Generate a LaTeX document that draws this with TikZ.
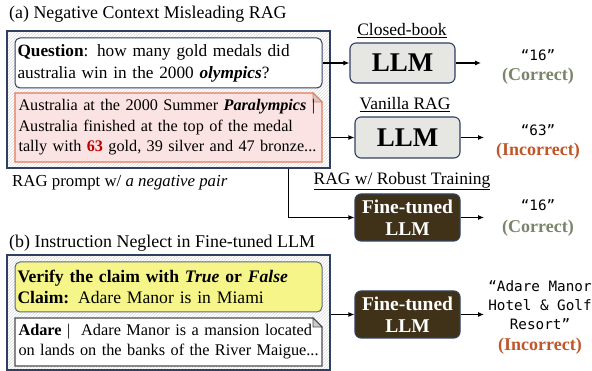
\documentclass[tikz,border=0pt]{standalone}
\usepackage{fontspec}
\setmainfont{Liberation Serif}
\setmonofont{DejaVu Sans Mono}
\usepackage{tikz}
\usetikzlibrary{positioning,calc,arrows.meta,patterns}
\definecolor{NAVY}{HTML}{2F4063}
\definecolor{DOCRED}{HTML}{E07B5A}
\definecolor{DOCPINK}{HTML}{FBE3E3}
\definecolor{LLMGRAY}{HTML}{E6E6E3}
\definecolor{BROWN}{HTML}{3F3219}
\definecolor{GOOD}{HTML}{7A8468}
\definecolor{BAD}{HTML}{C0562A}
\definecolor{CLAIMY}{HTML}{F6F58A}
\definecolor{HOT}{HTML}{C00000}
\tikzset{
    txt/.style={font=\fontsize{17.5}{21.5}\selectfont, inner sep=0pt},
    title/.style={font=\fontsize{17.9}{21.5}\selectfont, inner sep=0pt, anchor=west},
    panel/.style={draw=NAVY, line width=1.6pt, pattern=north east lines,
        pattern color=black!14, minimum width=323pt, inner sep=0pt},
    qbox/.style={rounded corners=5pt, line width=1pt, text width=302pt,
        inner xsep=2.5pt, inner ysep=0pt, align=left, minimum height=50pt},
    doctxt/.style={font=\fontsize{16.2}{20.5}\selectfont, inner sep=0pt, text width=302pt, align=left},
    llmbox/.style={draw=NAVY, line width=1.1pt, rounded corners=6pt, fill=LLMGRAY,
        minimum width=105pt, font=\fontsize{27}{30}\selectfont\bfseries},
    ftbox/.style={llmbox, fill=BROWN, text=white, align=center, minimum height=47pt,
        font=\fontsize{19.5}{22}\selectfont\bfseries, inner sep=0pt},
    ans/.style={font=\fontsize{14.3}{19}\selectfont\ttfamily, align=center, inner sep=0pt},
    verdict/.style={txt, font=\fontsize{18}{21}\selectfont\bfseries},
    arr/.style={-{Latex[length=6pt,width=5pt]}, line width=1.1pt},
}
\def\Doc[draw #1 fill #2]#3#4{
    \filldraw[draw=#1, fill=#2, line width=1.1pt]
        (#3) -- ($(#4 |- #3)+(-9,0)$) -- ($(#4 |- #3)+(0,9)$) -- (#4) -- (#3 |- #4) -- cycle;
    \filldraw[draw=#1, fill=black!20, line width=0.8pt] % folded corner
        ($(#4 |- #3)+(-9,0)$) -- ($(#4 |- #3)+(-9,9)$) -- ($(#4 |- #3)+(0,9)$) -- cycle;
}

\begin{document}
\begin{tikzpicture}[x=1pt,y=-1pt]
    \useasboundingbox (0,0) rectangle (592,371);

    % (a) negative context
    \node[title] (tA) at (9,14) {(a) Negative Context Misleading RAG};
    \node[panel, minimum height=137pt] (pA) at (168.5,99.5) {};
    \node[qbox, draw=NAVY, fill=white, font=\fontsize{17.25}{22}\selectfont] (q) at (168.5,63)
        {\textbf{Question}: how many gold medals did\\australia win in the 2000 \textbf{\textit{olympics}}?};
    \coordinate (cNW) at (15,93);
    \coordinate (cSE) at (322,162);
    \Doc[draw DOCRED fill DOCPINK]{cNW}{cSE}
    \node[doctxt] (ctx) at ($(cNW)!0.5!(cSE)+(1,0)$)
        {Australia at the 2000 Summer \textbf{\textit{Paralympics}} \textbar\\
         Australia finished at the top of the medal\\
         tally with \textcolor{HOT}{\textbf{63}} gold, 39 silver and 47 bronze...};
    \node[title, font=\fontsize{16.8}{19}\selectfont] (pl) at (12,183) {RAG prompt w/ \textit{a negative pair}};

    \node[txt] (cb) at (402,31) {\underline{Closed-book}};
    \node[llmbox, minimum height=40pt] (llm1) at (402.5,63) {LLM};
    \node[txt] (vr) at (405,105) {\underline{Vanilla RAG}};
    \node[llmbox, minimum height=41pt] (llm2) at (407.5,137.5) {LLM};
    \node[txt] (rt) at (402,181) {\underline{RAG w/ Robust Training}};
    \node[ftbox] (ft1) at (407.5,217.5) {Fine-tuned\\LLM};

    \node[ans] (o1) at (538,55) {“16”};
    \node[verdict, text=GOOD] (v1) at (538,76) {(Correct)};
    \node[ans] (o2) at (538,130) {“63”};
    \node[verdict, text=BAD] (v2) at (538,151) {(Incorrect)};
    \node[ans] (o3) at (538,205) {“16”};
    \node[verdict, text=GOOD] (v3) at (538,228) {(Correct)};

    \coordinate (e1) at (481,63);
    \coordinate (e2) at (484,137.5);
    \coordinate (e3) at (484,217.5);
    \coordinate (tap) at ($(pA.south east)+(-42,0)$);
    \draw[arr] (q.east) -- (llm1.west);
    \draw[arr] (llm1.east) -- (e1);
    \draw[arr] (pA.east |- llm2.west) -- (llm2.west);
    \draw[arr] (llm2.east) -- (e2);
    \draw[arr] (tap) |- (ft1.west);
    \draw[arr] (ft1.east) -- (e3);

    % (b) instruction neglect
    \node[title] (tB) at (9,243) {(b) Instruction Neglect in Fine-tuned LLM};
    \node[panel, minimum height=115pt] (pB) at (168.5,312.5) {};
    \node[qbox, draw=NAVY!80, fill=CLAIMY, font=\fontsize{17.6}{21.5}\selectfont] (cl) at (168.5,287)
        {\textbf{Verify the claim with \textit{True} or \textit{False}}\\\textbf{Claim:} Adare Manor is in Miami};
    \coordinate (dNW) at (15,318);
    \coordinate (dSE) at (322,366);
    \Doc[draw black!70 fill white]{dNW}{dSE}
    \node[doctxt, font=\fontsize{16.3}{20}\selectfont] (doc) at ($(dNW)!0.5!(dSE)+(1,0)$)
        {\textbf{Adare} \textbar\ \ Adare Manor is a mansion located\\on lands on the banks of the River Maigue...};

    \node[ftbox] (ft2) at (407.5,314.5) {Fine-tuned\\LLM};
    \node[ans] (o4) at (540,305) {“Adare Manor\\Hotel \& Golf\\Resort”};
    \node[verdict, text=BAD] (v4) at (540,346) {(Incorrect)};

    \coordinate (e4) at (484,314.5);
    \draw[arr] (pB.east |- ft2.west) -- (ft2.west);
    \draw[arr] (ft2.east) -- (e4);
\end{tikzpicture}
\end{document}
